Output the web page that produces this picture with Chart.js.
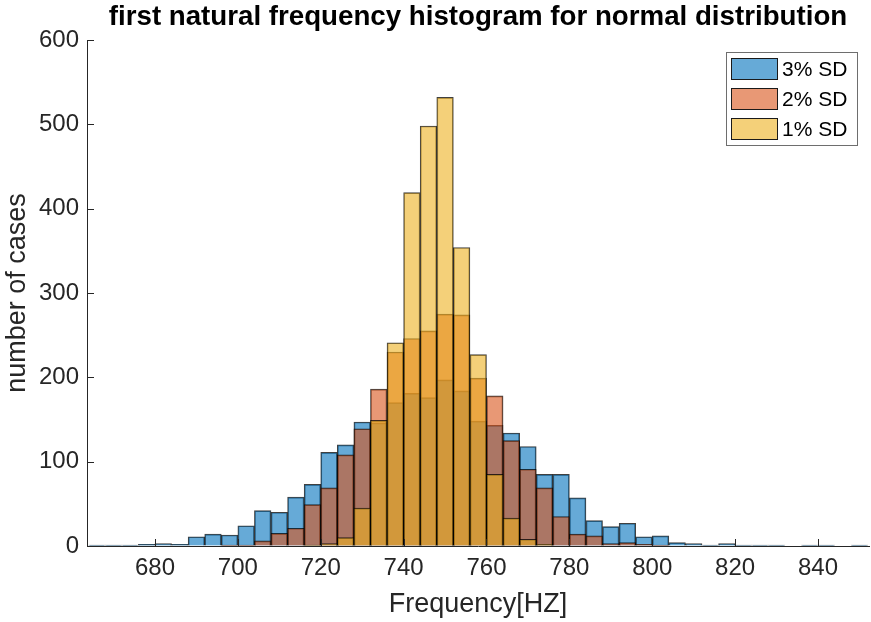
<!DOCTYPE html>
<html>
<head>
<meta charset="utf-8">
<script src="https://cdn.jsdelivr.net/npm/chart.js@4.4.0/dist/chart.umd.min.js"></script>
<style>
  html, body { margin: 0; padding: 0; background: #fff; }
</style>
</head>
<body>
<canvas id="histChart" width="871" height="622"></canvas>
<script>
// bin centres (Hz), 4 Hz wide bins from 664 to 852
const binCenters = [666, 670, 674, 678, 682, 686, 690, 694, 698, 702, 706, 710, 714, 718, 722, 726,
  730, 734, 738, 742, 746, 750, 754, 758, 762, 766, 770, 774, 778, 782, 786, 790, 794, 798, 802, 806,
  810, 814, 818, 822, 826, 830, 834, 838, 842, 846, 850];

// counts per bin
const sd3 = [1, 1, 1, 2, 3, 2, 11, 14, 13, 24, 42, 40, 58, 73, 111, 120,
  147, 146, 170, 181, 176, 197, 184, 148, 143, 134, 118, 85, 85, 57, 30, 23, 27, 11, 12, 4,
  3, 1, 3, 1, 1, 1, 0, 1, 1, 0, 1];
const sd2 = [0, 0, 0, 0, 0, 0, 0, 0, 1, 1, 6, 15, 21, 49, 69, 108,
  139, 186, 230, 246, 255, 275, 274, 199, 178, 125, 91, 69, 35, 14, 12, 3, 4, 2, 1, 0,
  0, 0, 0, 0, 0, 0, 0, 0, 0, 0, 0];
const sd1 = [0, 0, 0, 0, 0, 0, 0, 0, 0, 0, 0, 0, 0, 1, 3, 10,
  45, 149, 241, 419, 498, 532, 354, 227, 85, 33, 8, 2, 0, 0, 0, 0, 0, 0, 0, 0,
  0, 0, 0, 0, 0, 0, 0, 0, 0, 0, 0];

const seriesNames = ["3% SD", "2% SD", "1% SD"];
const xTicks = [680, 700, 720, 740, 760, 780, 800, 820, 840];
const yTicks = [0, 100, 200, 300, 400, 500, 600];
const chartTitle = "first natural frequency histogram for normal distribution";

const FONT = "'Liberation Sans', Arial, Helvetica, sans-serif";
const AXIS_COLOR = "#262626";
const fills = ["rgba(0,114,189,0.6)", "rgba(217,83,25,0.6)", "rgba(237,177,32,0.6)"];

function toPoints(vals) {
  return binCenters.map((c, i) => ({ x: c, y: vals[i] }));
}

// title centred over the plot, inward tick marks and the boxed legend
const matlabBits = {
  id: "matlabBits",
  afterDatasetsDraw(chart) {
    const { ctx, chartArea: a, scales: { x, y } } = chart;
    ctx.save();
    ctx.strokeStyle = AXIS_COLOR;
    ctx.lineWidth = 1;
    ctx.beginPath();
    xTicks.forEach((v) => {
      const px = Math.round(x.getPixelForValue(v)) + 0.5;
      ctx.moveTo(px, a.bottom);
      ctx.lineTo(px, a.bottom - 7);
    });
    yTicks.forEach((v) => {
      const py = Math.round(y.getPixelForValue(v)) + 0.5;
      ctx.moveTo(a.left, py);
      ctx.lineTo(a.left + 7, py);
    });
    ctx.stroke();

    // title
    ctx.fillStyle = "#000";
    ctx.font = "bold 27.7px " + FONT;
    ctx.textAlign = "center";
    ctx.textBaseline = "middle";
    ctx.fillText(chartTitle, (a.left + a.right) / 2, 17);

    // legend box
    const bx = a.right - 143, by = a.top + 12, bw = 131, bh = 93;
    ctx.fillStyle = "#fff";
    ctx.fillRect(bx, by, bw, bh);
    ctx.strokeStyle = "#6e6e6e";
    ctx.strokeRect(bx + 0.5, by + 0.5, bw, bh);
    ctx.font = "21px " + FONT;
    ctx.textAlign = "left";
    chart.data.datasets.forEach((ds, i) => {
      const sy = by + 6 + i * 30;
      ctx.fillStyle = ds.backgroundColor;
      ctx.fillRect(bx + 5, sy, 47, 22);
      ctx.strokeStyle = "#1a1a1a";
      ctx.strokeRect(bx + 5.5, sy + 0.5, 46, 21);
      ctx.fillStyle = "#000";
      ctx.fillText(ds.label, bx + 56, sy + 12);
    });
    ctx.restore();
  },
};

const datasets = [sd3, sd2, sd1].map((vals, i) => ({
  label: seriesNames[i],
  data: toPoints(vals),
  backgroundColor: fills[i],
  borderColor: "rgba(0,0,0,0.75)",
  borderWidth: 1,
  barPercentage: 1,
  categoryPercentage: 1,
  grouped: false,
  order: 3 - i, // later series drawn on top
}));

new Chart(document.getElementById("histChart").getContext("2d"), {
  type: "bar",
  data: { datasets },
  options: {
    responsive: false,
    animation: false,
    devicePixelRatio: 1,
    layout: { padding: { left: 0, right: 2, top: 40, bottom: 0 } },
    scales: {
      x: {
        type: "linear",
        min: 663.6,
        max: 852.3,
        offset: false,
        z: 1,
        grid: { display: true, drawOnChartArea: false, drawTicks: false, offset: false },
        border: { display: true, color: AXIS_COLOR, width: 1 },
        afterBuildTicks: (s) => { s.ticks = xTicks.map((v) => ({ value: v })); },
        afterFit: (s) => { s.height = 76; },
        ticks: { color: AXIS_COLOR, padding: 8, maxRotation: 0, font: { family: FONT, size: 24 } },
        title: {
          display: true,
          text: "Frequency[HZ]",
          color: AXIS_COLOR,
          padding: { top: 0, bottom: 1 },
          font: { family: FONT, size: 27 },
        },
      },
      y: {
        min: 0,
        max: 600,
        z: 1,
        grid: { display: true, drawOnChartArea: false, drawTicks: false },
        border: { display: true, color: AXIS_COLOR, width: 1 },
        afterBuildTicks: (s) => { s.ticks = yTicks.map((v) => ({ value: v })); },
        afterFit: (s) => { s.width = 87; },
        ticks: { color: AXIS_COLOR, padding: 8, font: { family: FONT, size: 24 } },
        title: {
          display: true,
          text: "number of cases",
          color: AXIS_COLOR,
          padding: { top: 1, bottom: 0 },
          font: { family: FONT, size: 27 },
        },
      },
    },
    plugins: {
      legend: { display: false },
      tooltip: { enabled: false },
      title: { display: false },
    },
  },
  plugins: [matlabBits],
});
</script>
</body>
</html>
